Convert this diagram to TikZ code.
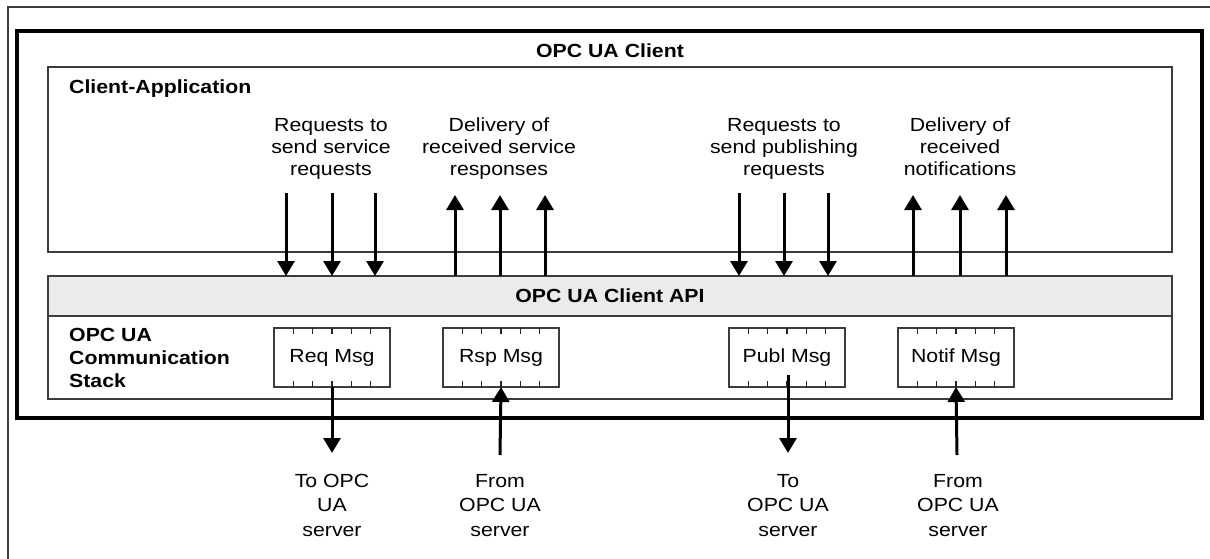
\documentclass[tikz,border=0pt]{standalone}
\usepackage{fontspec}
\setmainfont{Liberation Sans}[FakeStretch=1.12]
\usetikzlibrary{arrows.meta,calc}
\definecolor{bandgray}{RGB}{235,235,235}
\definecolor{linegray}{RGB}{60,60,60}
\begin{document}
\begin{tikzpicture}[x=1pt,y=-1pt,
  box/.style={draw=linegray,line width=1.8pt,anchor=north west,inner sep=0pt,outer sep=0pt},
  msgbox/.style={draw=linegray,line width=1.4pt,anchor=north west,inner sep=0pt,outer sep=0pt,
    minimum width=116pt,minimum height=59pt,font=\fontsize{19}{22}\selectfont},
  tick/.style={draw=black!85,line width=1.6pt},
  arr/.style={line width=3pt,-{Triangle[width=17pt,length=15pt]}},
  toptxt/.style={align=center,anchor=base,inner sep=0pt,font=\fontsize{19}{21.7}\selectfont},
  bottxt/.style={align=center,anchor=base,inner sep=0pt,font=\fontsize{19}{24.5}\selectfont},
  title/.style={inner sep=0pt,anchor=base,font=\fontsize{19}{23}\selectfont\bfseries}]
\useasboundingbox (0,0) rectangle (1210,558);
% outer frame (extends beyond the picture)
\draw[linegray,line width=1.8pt] (8,560) -- (8,7) -- (1212,7);
% OPC UA Client frame
\node[draw=black,line width=3.5pt,anchor=north west,inner sep=0pt,outer sep=0pt,
  minimum width=1185pt,minimum height=387pt] (client) at (17,31) {};
\node[title] (clienttitle) at (610,57) {OPC UA Client};
% Client application
\node[box,minimum width=1124pt,minimum height=185pt] (app) at (48,67) {};
\node[title,anchor=base west] (apptitle) at (69,93) {Client-Application};
% API band
\node[box,fill=bandgray,minimum width=1124pt,minimum height=40pt,
  font=\fontsize{19}{23}\selectfont\bfseries] (api) at (48,276) {OPC UA Client API};
% Stack
\node[box,minimum width=1124pt,minimum height=83pt] (stack) at (48,316) {};
\node[title,anchor=base west,align=left] (stacktitle) at (69,387) {OPC UA\\Communication\\Stack};
% message boxes
\node[msgbox] (req) at (274,328) {Req Msg};
\node[msgbox] (rsp) at (443,328) {Rsp Msg};
\node[msgbox] (publ) at (729,328) {Publ Msg};
\node[msgbox] (notif) at (898,328) {Notif Msg};
\foreach \m in {req,rsp,publ,notif}{
  \foreach \i in {1,...,5}{
    \draw[tick] ($(\m.north west)!\i/6!(\m.north east)$) -- ++(0,6);
    \draw[tick] ($(\m.south west)!\i/6!(\m.south east)$) -- ++(0,-6);
  }
}
% top texts
\node[toptxt] (t1) at (331,175) {Requests to\\send service\\requests};
\node[toptxt] (t2) at (499,175) {Delivery of\\received service\\responses};
\node[toptxt] (t3) at (784,175) {Requests to\\send publishing\\requests};
\node[toptxt] (t4) at (960,175) {Delivery of\\received\\notifications};
% top arrows
\foreach \x in {286,332,375,739,784,828}{
  \draw[arr] (\x,193) -- (\x,193 |- api.north);
}
\foreach \x in {455,500,545,913,960,1006}{
  \draw[arr] (\x,196 |- api.north) -- (\x,195);
}
% bottom arrows
\coordinate (reqend) at (332,453);
\coordinate (rspstart) at (500,455);
\coordinate (publstart) at (788,375);
\coordinate (publend) at (788,453);
\coordinate (notifstart) at (957,455);
\draw[arr] (req.south) -- (reqend);
\draw[arr] (rspstart) -- (rsp.south);
\draw[arr] (publstart) -- (publend);
\draw[arr] (notifstart) -- (notif.south);
% bottom texts
\node[bottxt] (b1) at (332,536) {To OPC\\UA\\server};
\node[bottxt] (b2) at (500,536) {From\\OPC UA\\server};
\node[bottxt] (b3) at (788,536) {To\\OPC UA\\server};
\node[bottxt] (b4) at (958,536) {From\\OPC UA\\server};
\end{tikzpicture}
\end{document}
